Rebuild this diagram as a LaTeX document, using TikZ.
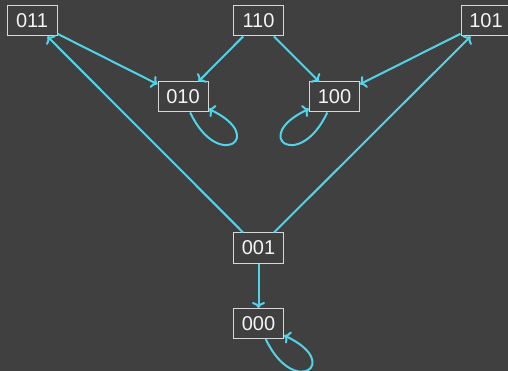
\documentclass[tikz,border=0pt]{standalone}
\usepackage{fontspec}
\setmainfont{Liberation Sans}
\usetikzlibrary{arrows.meta}
\definecolor{bgc}{RGB}{64,64,64}
\definecolor{edgec}{RGB}{82,212,232}
\definecolor{boxc}{RGB}{215,215,215}
\definecolor{txtc}{RGB}{245,245,245}
\tikzset{
  state/.style={draw=boxc, line width=1pt, fill=bgc, text=txtc,
    minimum width=50pt, minimum height=30pt, inner sep=0pt,
    font=\fontsize{20}{22}\selectfont},
  link/.style={draw=edgec, line width=2pt, -{To[length=6pt,width=13pt]}},
  selfloop/.style={link, loop, distance=66pt}
}
\begin{document}
\begin{tikzpicture}[x=1pt, y=-1pt]
  \fill[bgc] (0,0) rectangle (508,371);
  \useasboundingbox (0,0) rectangle (508,371);
  % states
  \node[state] (s011) at (32,21) {011};
  \node[state] (s110) at (258.5,21) {110};
  \node[state] (s101) at (486,21) {101};
  \node[state] (s010) at (183,97) {010};
  \node[state] (s100) at (334.5,97) {100};
  \node[state] (s001) at (258.5,248) {001};
  \node[state] (s000) at (258.5,323.5) {000};
  % transitions
  \draw[link] (s011) -- (s010);
  \draw[link] (s110) -- (s010);
  \draw[link] (s110) -- (s100);
  \draw[link] (s101) -- (s100);
  \draw[link] (s001) -- (s011);
  \draw[link] (s001) -- (s101);
  \draw[link] (s001) -- (s000);
  % fixed points
  \path (s010) edge[selfloop, out=-65, in=-25] (s010);
  \path (s100) edge[selfloop, out=-115, in=-155] (s100);
  \path (s000) edge[selfloop, out=-65, in=-25] (s000);
\end{tikzpicture}
\end{document}
